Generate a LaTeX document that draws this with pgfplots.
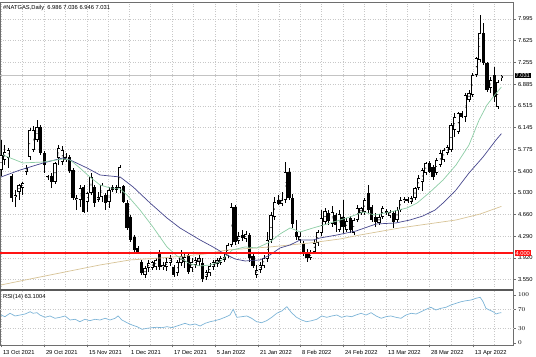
\documentclass[border=0pt]{standalone}
\usepackage{pgfplots}
\pgfplotsset{compat=1.18}
\usepackage{pgfplotstable}
\usepackage{fontspec}
\setmainfont{Liberation Sans}
\definecolor{gridc}{RGB}{200,200,200}
\definecolor{bidc}{RGB}{195,195,195}
\definecolor{maf}{RGB}{140,205,165}
\definecolor{mam}{RGB}{70,70,140}
\definecolor{mas}{RGB}{215,195,150}
\definecolor{rsic}{RGB}{125,180,215}
\definecolor{mtred}{RGB}{255,20,20}
\definecolor{frame}{RGB}{110,110,110}

\pgfplotstableread{
i o h l c
0 5.420 5.932 5.318 5.676
1 5.591 5.847 5.506 5.727
2 5.625 5.796 5.455 5.762
3 5.318 5.352 4.875 4.943
4 4.960 5.080 4.790 4.994
5 5.045 5.182 4.909 5.165
6 5.114 5.216 4.994 5.199
7 5.386 5.506 5.335 5.455
8 5.642 6.137 5.591 6.103
9 5.762 6.171 5.727 6.103
10 5.932 6.273 5.898 6.154
11 6.154 6.188 5.676 5.710
12 5.710 5.744 5.369 5.506
13 5.301 5.335 5.250 5.318
14 5.318 5.369 5.114 5.216
15 5.216 5.557 5.182 5.540
16 5.625 5.847 5.506 5.796
17 5.557 5.830 5.506 5.762
18 5.591 5.710 5.557 5.642
19 5.642 5.676 5.369 5.403
20 5.420 5.455 4.909 4.943
21 4.909 4.994 4.739 4.943
22 4.909 5.165 4.790 5.114
23 5.131 5.165 4.687 4.704
24 4.875 5.045 4.704 5.028
25 5.028 5.369 4.994 5.301
26 5.131 5.165 4.790 4.858
27 4.909 5.045 4.875 4.960
28 4.960 5.199 4.875 5.165
29 4.994 5.028 4.739 4.858
30 4.875 5.131 4.773 5.080
31 5.131 5.165 5.045 5.080
32 5.080 5.165 5.028 5.131
33 5.114 5.506 5.028 5.472
34 5.148 5.165 4.858 4.875
35 4.858 4.909 4.398 4.432
36 4.619 4.653 4.193 4.227
37 4.278 4.312 4.022 4.056
38 4.091 4.125 4.005 4.022
39 3.852 3.886 3.630 3.664
40 3.630 3.784 3.579 3.750
41 3.750 3.886 3.681 3.835
42 3.750 3.869 3.715 3.852
43 3.767 3.920 3.715 3.886
44 4.022 4.056 3.715 3.767
45 3.767 3.852 3.715 3.801
46 3.767 3.937 3.698 3.852
47 3.835 3.971 3.784 3.920
48 3.767 3.801 3.596 3.630
49 3.664 3.886 3.613 3.852
50 3.835 4.056 3.784 3.954
51 3.852 4.022 3.750 3.937
52 3.971 4.022 3.647 3.681
53 3.750 3.920 3.681 3.852
54 3.801 3.937 3.750 3.886
55 3.852 3.971 3.784 3.920
56 3.835 3.920 3.511 3.562
57 3.596 3.715 3.545 3.681
58 3.664 3.835 3.613 3.784
59 3.767 3.886 3.715 3.852
60 3.818 3.920 3.767 3.886
61 3.835 3.954 3.801 3.920
62 3.886 3.988 3.852 3.937
63 3.954 4.176 3.920 4.142
64 4.142 4.858 4.108 4.790
65 4.790 4.824 4.142 4.193
66 4.210 4.363 4.159 4.295
67 4.312 4.398 4.210 4.261
68 4.244 4.380 4.193 4.329
69 4.312 4.346 3.852 3.920
70 3.954 4.005 3.750 3.784
71 3.630 3.801 3.579 3.715
72 3.715 3.852 3.664 3.801
73 3.784 3.971 3.750 3.920
74 3.903 4.363 3.852 4.227
75 4.227 4.704 4.176 4.653
76 4.619 4.960 4.568 4.875
77 4.909 4.994 4.824 4.841
78 4.841 5.045 4.807 4.909
79 4.909 5.557 4.858 5.386
80 5.386 5.455 4.909 4.943
81 4.943 5.011 4.432 4.500
82 4.363 4.568 4.227 4.278
83 4.227 4.363 4.176 4.295
84 4.159 4.210 3.954 3.988
85 4.022 4.073 3.852 3.920
86 3.920 4.056 3.886 4.005
87 4.022 4.227 3.988 4.176
88 4.176 4.398 4.125 4.363
89 4.346 4.739 4.295 4.602
90 4.534 4.773 4.483 4.721
91 4.687 4.739 4.483 4.551
92 4.500 4.807 4.449 4.704
93 4.653 4.687 4.363 4.483
94 4.398 4.739 4.363 4.670
95 4.619 4.909 4.346 4.449
96 4.398 4.602 4.363 4.551
97 4.602 4.636 4.346 4.398
98 4.346 4.602 4.312 4.568
99 4.568 4.824 4.534 4.773
100 4.687 4.790 4.653 4.773
101 4.704 4.943 4.653 4.909
102 5.028 5.165 4.687 4.739
103 4.790 4.824 4.534 4.568
104 4.619 4.687 4.449 4.534
105 4.517 4.670 4.483 4.619
106 4.619 4.807 4.585 4.773
107 4.721 4.756 4.653 4.687
108 4.636 4.739 4.602 4.704
109 4.687 4.721 4.432 4.534
110 4.568 4.790 4.534 4.739
111 4.739 4.960 4.704 4.909
112 4.892 4.960 4.858 4.926
113 4.926 4.960 4.858 4.892
114 4.875 4.977 4.841 4.943
115 4.943 5.131 4.909 5.114
116 5.114 5.335 5.080 5.284
117 5.216 5.455 5.062 5.420
118 5.369 5.557 5.335 5.540
119 5.540 5.574 5.369 5.386
120 5.472 5.506 5.250 5.301
121 5.369 5.625 5.335 5.591
122 5.506 5.762 5.472 5.710
123 5.591 5.796 5.557 5.762
124 5.710 5.847 5.676 5.813
125 5.762 6.222 5.727 6.188
126 6.103 6.392 5.983 6.324
127 6.068 6.409 6.034 6.392
128 6.392 6.426 6.307 6.324
129 6.324 6.733 6.239 6.699
130 6.614 6.785 6.580 6.733
131 6.699 7.074 6.665 7.040
132 7.040 7.347 7.006 7.330
133 7.296 8.063 7.262 7.756
134 7.756 7.927 7.211 7.245
135 7.245 7.262 6.750 6.785
136 6.819 7.006 6.733 6.955
137 7.040 7.177 6.580 6.665
138 6.495 6.955 6.461 6.921
139 6.986 7.036 6.946 7.031
}\candles

\pgfplotstableread{
x y
0.56 5.676
6.1 5.540
11.7 5.557
17.2 5.608
19.2 5.591
21.9 5.455
24.7 5.301
27.5 5.165
30.3 5.114
33.1 5.097
35.0 4.994
38.6 4.739
42.2 4.449
46.1 4.108
48.9 3.954
52.5 3.818
55.3 3.784
58.1 3.801
60.8 3.852
64.2 4.056
67.8 4.108
71.1 4.091
74.7 4.193
77.5 4.329
80.3 4.432
83.1 4.363
86.7 4.432
90.6 4.500
94.2 4.568
96.9 4.619
100.6 4.704
103.9 4.653
108.1 4.704
112.8 4.773
115.6 4.858
119.2 5.045
122.8 5.250
126.4 5.506
130.0 5.847
132.8 6.273
135.0 6.529
136.7 6.665
139.0 6.836
}\mafast

\pgfplotstableread{
x y
0 5.301
5.3 5.420
11.7 5.540
15.0 5.591
17.2 5.625
19.2 5.591
23.9 5.455
27.5 5.335
33.1 5.301
36.7 5.131
41.4 4.858
46.1 4.602
49.7 4.432
55.3 4.227
58.9 4.108
62.2 3.988
65.0 3.903
67.8 3.869
71.9 3.886
74.7 3.971
77.5 4.091
80.3 4.142
83.1 4.227
86.7 4.227
88.6 4.261
93.3 4.312
98.6 4.380
104.2 4.500
109.7 4.517
113.6 4.568
117.2 4.636
120.6 4.739
122.8 4.858
126.4 5.080
130.0 5.369
133.9 5.642
137.5 5.932
139.0 6.040
}\mamid

\pgfplotstableread{
x y
0 3.460
8.1 3.562
16.4 3.664
27.5 3.801
35.8 3.886
44.2 3.920
51.1 3.954
56.7 3.988
62.8 4.056
74.7 4.108
85.8 4.176
94.2 4.244
99.7 4.312
110.8 4.432
126.4 4.568
133.1 4.670
139.0 4.800
}\maslow

\pgfplotstableread{
x r
0 58.3
1.1 54.8
2.5 61.9
3.9 56.3
5.3 58.3
6.7 60.4
8.1 65.2
8.9 61.9
10.0 63.1
10.8 58.3
12.2 53.5
13.6 56.3
15.0 51.5
16.4 53.5
17.8 56.3
19.2 47.9
20.6 49.4
21.9 44.4
23.3 49.4
24.7 46.5
26.1 49.4
27.5 47.9
28.9 51.5
30.3 47.9
31.7 51.5
32.5 56.3
33.6 47.9
35.0 42.3
36.4 37.5
37.8 34.0
39.2 28.5
40.6 30.6
41.9 31.9
43.3 32.7
44.7 31.9
46.1 34.0
47.5 31.9
48.9 35.4
49.7 37.5
51.1 41.0
52.5 37.5
53.9 39.6
55.3 35.4
56.7 41.0
58.1 44.4
59.4 46.5
60.8 49.4
62.2 53.5
63.6 58.3
64.5 70.2
65.5 53.5
66.9 54.8
68.3 56.3
69.6 51.5
71.0 44.4
72.4 42.3
73.8 46.5
75.2 53.5
76.6 61.9
78.0 66.7
79.4 75.6
80.7 63.1
82.1 53.5
83.5 47.9
84.9 44.4
86.3 46.5
87.7 49.4
89.1 56.3
90.5 53.5
91.9 56.3
93.3 58.3
94.6 53.5
96.0 56.3
97.4 54.8
98.6 58.3
100.0 61.9
101.4 58.3
102.8 63.1
104.2 56.3
105.6 51.5
106.9 54.8
108.3 56.3
109.7 53.5
111.1 51.5
112.5 58.3
113.9 61.9
115.3 60.4
116.7 65.2
118.1 70.2
119.4 74.4
120.8 68.8
122.2 72.3
123.6 74.4
125.0 79.2
126.4 82.7
127.8 86.0
129.2 88.1
130.6 89.6
131.9 93.1
133.1 95.2
133.9 86.0
134.7 72.3
135.6 68.8
136.7 65.2
137.5 60.4
138.3 62.5
139.0 63.1
}\rsi

\pgfplotstableread{
x y
-0.28 4.000
142.22 4.000
}\redlevel

\pgfplotstableread{
x y
-0.28 7.031
142.22 7.031
}\bidlevel

\pgfplotsset{
  every tick label/.append style={font=\fontsize{5.8}{6.5}\selectfont, text=black},
  mtgrid/.style={grid style={gridc, dash pattern=on 1bp off 1.5bp, line width=0.5bp},
                 minor grid style={gridc, dash pattern=on 1bp off 1.5bp, line width=0.5bp}},
  nomarks/.style={only marks, mark=*, mark options={draw=none, fill=none, scale=0.01}},
}

\begin{document}
\begin{tikzpicture}
\useasboundingbox (0bp,0bp) rectangle (536bp,357bp);
% ---------------- main price panel ----------------
\begin{axis}[
  at={(0bp,67bp)}, anchor=south west,
  width=513bp, height=288bp, scale only axis,
  xmin=-0.28, xmax=142.22, ymin=3.374, ymax=8.285,
  axis line style={draw=frame, line width=0.6bp},
  mtgrid,
  xtick={0,11.94,23.9,35.6,47.5,59.4,71.4,83.1,95,107,118.9,131.1},
  minor xtick={5.97,17.9,29.75,41.55,53.45,65.4,77.25,89.05,101,112.95,125,137},
  xticklabels={},
  xmajorgrids, xminorgrids, ymajorgrids,
  major x tick style={draw=none}, minor x tick style={draw=none},
  ytick={3.550,3.920,4.290,4.660,5.030,5.400,5.775,6.145,6.515,6.885,7.255,7.625,7.995},
  yticklabels={3.550,3.920,4.290,4.660,5.030,5.400,5.775,6.145,6.515,6.885,7.255,7.625,7.995},
  ytick pos=right, yticklabel pos=right,
  tick align=outside, major tick length=2.5bp,
  y tick style={draw=frame, line width=0.5bp},
  yticklabel style={xshift=-1bp},
]
\addplot[draw=bidc, line width=0.9bp, mark=none] table[x=x,y=y] {\bidlevel};
% wicks
\addplot[nomarks, error bars/.cd, y dir=both, y explicit, error mark=none,
  error bar style={draw=black, line width=0.55bp, line cap=butt}]
  table[x=i, y expr={(\thisrow{h}+\thisrow{l})/2}, y error expr={(\thisrow{h}-\thisrow{l})/2}] {\candles};
% bodies (outline / bear fill)
\addplot[nomarks, error bars/.cd, y dir=both, y explicit, error mark=none,
  error bar style={draw=black, line width=3.2bp, line cap=butt}]
  table[x=i, y expr={(\thisrow{o}+\thisrow{c})/2}, y error expr={max(abs(\thisrow{c}-\thisrow{o})/2,0.006)}] {\candles};
% bull bodies inner white
\addplot[nomarks, error bars/.cd, y dir=both, y explicit, error mark=none,
  error bar style={draw=white, line width=2.0bp, line cap=butt}]
  table[x=i, y expr={(\thisrow{c}>\thisrow{o}) ? (\thisrow{o}+\thisrow{c})/2 : 0}, y error expr={max((\thisrow{c}-\thisrow{o})/2-0.011,0)}] {\candles};
% moving averages
\addplot[draw=mas, line width=0.7bp, mark=none] table[x=x,y=y] {\maslow};
\addplot[draw=mam, line width=0.7bp, mark=none] table[x=x,y=y] {\mamid};
\addplot[draw=maf, line width=0.7bp, mark=none] table[x=x,y=y] {\mafast};
% support level
\addplot[draw=mtred, line width=1.7bp, mark=none] table[x=x,y=y] {\redlevel};
\coordinate (lab4) at (axis cs:142.22,4.000);
\coordinate (labbid) at (axis cs:142.22,7.031);
\node[anchor=north west, inner sep=0pt, font=\fontsize{5.8}{6.5}\selectfont] at (rel axis cs:0,1) [xshift=3bp, yshift=-3bp] {\#NATGAS,Daily\ \ 6.986 7.036 6.946 7.031};
\end{axis}
\node[anchor=west, fill=mtred, text=white, inner sep=0.8bp, font=\fontsize{5.8}{6.5}\selectfont] at ([xshift=1.5bp]lab4) {4.000};
\node[anchor=west, fill=black, text=white, inner sep=0.8bp, font=\fontsize{5.8}{6.5}\selectfont] at ([xshift=1.5bp]labbid) {7.031};
% ---------------- RSI panel ----------------
\begin{axis}[
  at={(0bp,12bp)}, anchor=south west,
  width=513bp, height=55bp, scale only axis,
  xmin=-0.28, xmax=142.22, ymin=-4.17, ymax=110.4,
  clip=false,
  axis line style={draw=frame, line width=0.6bp},
  mtgrid,
  xtick={0,11.94,23.9,35.6,47.5,59.4,71.4,83.1,95,107,118.9,131.1},
  minor xtick={5.97,17.9,29.75,41.55,53.45,65.4,77.25,89.05,101,112.95,125,137},
  xticklabels={13 Oct 2021,29 Oct 2021,15 Nov 2021,1 Dec 2021,17 Dec 2021,5 Jan 2022,21 Jan 2022,8 Feb 2022,24 Feb 2022,13 Mar 2022,28 Mar 2022,13 Apr 2022},
  xticklabel style={anchor=north west, xshift=-1.5bp, yshift=0.5bp},
  xmajorgrids, xminorgrids,
  xtick pos=bottom, minor x tick style={draw=none},
  x tick style={draw=frame, line width=0.5bp},
  ytick={0,30,70,100},
  ytick pos=right, yticklabel pos=right,
  tick align=outside, major tick length=2.5bp,
  y tick style={draw=frame, line width=0.5bp},
  yticklabel style={xshift=-1bp},
]
\addplot[draw=gridc, dash pattern=on 1bp off 1.5bp, line width=0.5bp, mark=none] coordinates {(-0.28,70) (142.22,70)};
\addplot[draw=gridc, dash pattern=on 1bp off 1.5bp, line width=0.5bp, mark=none] coordinates {(-0.28,30) (142.22,30)};
\addplot[draw=rsic, line width=0.7bp, mark=none] table[x=x,y=r] {\rsi};
\draw[black!65, line width=2bp] (rel axis cs:0,1) -- (rel axis cs:1,1);
\node[anchor=north west, inner sep=0pt, font=\fontsize{5.8}{6.5}\selectfont] at (rel axis cs:0,1) [xshift=3bp, yshift=-4bp] {RSI(14) 63.1004};
\end{axis}
\end{tikzpicture}
\end{document}
